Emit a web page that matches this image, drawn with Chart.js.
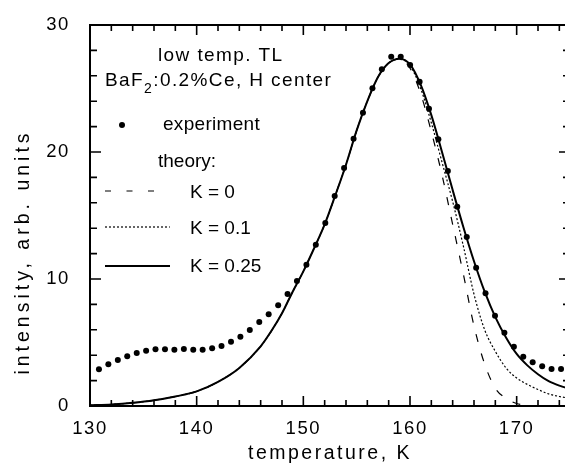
<!DOCTYPE html>
<html>
<head>
<meta charset="utf-8">
<script src="https://cdn.jsdelivr.net/npm/chart.js@4.4.0/dist/chart.umd.min.js"></script>
<style>
  html, body { margin: 0; padding: 0; overflow: hidden; background: #fff; }
</style>
</head>
<body>
<canvas id="myChart" width="580" height="463"></canvas>
<script>
// experiment (dots)
const expTemp = [
  130.84, 131.72, 132.61, 133.49, 134.38, 135.26, 136.14, 137.03, 137.91, 138.80,
  139.68, 140.56, 141.45, 142.33, 143.22, 144.10, 144.98, 145.87, 146.75, 147.64,
  148.52, 149.40, 150.29, 151.17, 152.06, 152.94, 153.82, 154.71, 155.59, 156.48,
  157.36, 158.24, 159.13, 160.01, 160.90, 161.78, 162.66, 163.55, 164.43, 165.32,
  166.20, 167.08, 167.97, 168.85, 169.74, 170.62, 171.50, 172.39, 173.27, 174.16,
];
const expIntensity = [
  2.89, 3.28, 3.62, 3.91, 4.17, 4.35, 4.46, 4.46, 4.43, 4.49,
  4.43, 4.43, 4.54, 4.72, 5.06, 5.46, 5.98, 6.61, 7.22, 7.93,
  8.82, 9.84, 11.13, 12.7, 14.41, 16.54, 18.74, 21.04, 23.09, 25.02,
  26.51, 27.5, 27.5, 26.85, 25.54, 23.41, 21.0, 18.5, 15.69, 13.31,
  10.89, 8.87, 7.11, 5.77, 4.67, 3.88, 3.44, 3.13, 2.91, 2.91,
];

// theory curves
const theoryTemp = [
  130, 132, 134, 136, 138, 140, 142, 144, 146, 147,
  148, 149, 150, 151, 152, 153, 154, 155, 156, 157,
  158, 159, 160, 161, 162, 163, 164, 165, 166, 167,
  168, 169, 170, 171, 172, 173, 174, 175,
];
const theoryK0 = [
  0.05, 0.12, 0.25, 0.45, 0.75, 1.15, 1.9, 3.0, 4.7, 5.9,
  7.3, 9.0, 10.6, 12.4, 14.3, 16.6, 19.0, 21.7, 24.0, 25.9,
  27.0, 27.3, 26.6, 24.6, 21.6, 18.2, 14.3, 10.4, 6.3, 3.3,
  1.4, 0.6, 0.2, 0.05, null, null, null, null,
];
const theoryK01 = [
  0.05, 0.12, 0.25, 0.45, 0.75, 1.15, 1.9, 3.0, 4.7, 5.9,
  7.3, 9.0, 10.6, 12.4, 14.3, 16.6, 19.0, 21.7, 24.0, 25.9,
  27.0, 27.3, 26.8, 25.0, 22.3, 19.2, 16.1, 12.6, 8.8, 6.0,
  4.3, 3.0, 2.2, 1.7, 1.3, 0.95, 0.75, 0.6,
];
const theoryK025 = [
  0.05, 0.12, 0.25, 0.45, 0.75, 1.15, 1.9, 3.0, 4.7, 5.9,
  7.3, 9.0, 10.6, 12.4, 14.3, 16.6, 19.0, 21.7, 24.0, 25.9,
  27.0, 27.35, 26.9, 25.3, 22.9, 20.0, 17.0, 14.1, 11.4, 9.0,
  7.0, 5.4, 4.1, 3.2, 2.5, 1.95, 1.6, 1.35,
];

const xTicks = [130, 140, 150, 160, 170];
const yTicks = [0, 10, 20, 30];

const FONT = "Liberation Sans, Arial, sans-serif";

function pairs(xs, ys) {
  const out = [];
  xs.forEach((x, i) => {
    if (ys[i] !== null) out.push({ x: x, y: ys[i] });
  });
  return out;
}

// text with letter spacing on the canvas
function label(ctx, text, x, y, size, spacing, align) {
  ctx.font = size + "px " + FONT;
  ctx.letterSpacing = spacing + "px";
  ctx.textAlign = align || "left";
  ctx.textBaseline = "alphabetic";
  ctx.fillText(text, x, y);
}

// frame with inward ticks on all four sides
const frameTicks = {
  id: "frameTicks",
  beforeDraw(chart) {
    chart.ctx.letterSpacing = "1.6px";
  },
  afterDatasetsDraw(chart) {
    const { ctx, chartArea: a } = chart;
    const x = chart.scales.x;
    const y = chart.scales.y;
    ctx.save();
    ctx.strokeStyle = "#000";
    ctx.lineWidth = 2;
    ctx.strokeRect(a.left, a.top, a.right - a.left, a.bottom - a.top);
    ctx.lineWidth = 1.6;
    ctx.beginPath();
    for (let v = 130; v <= 175; v += 2) {
      const px = x.getPixelForValue(v);
      const len = v % 10 === 0 ? 10 : 6;
      ctx.moveTo(px, a.bottom);
      ctx.lineTo(px, a.bottom - len);
      ctx.moveTo(px, a.top);
      ctx.lineTo(px, a.top + len);
    }
    for (let v = 0; v <= 30; v += 2) {
      const py = y.getPixelForValue(v);
      const len = v % 10 === 0 ? 11 : 7;
      ctx.moveTo(a.left, py);
      ctx.lineTo(a.left + len, py);
      ctx.moveTo(a.right, py);
      ctx.lineTo(a.right - len, py);
    }
    ctx.stroke();
    ctx.restore();
  },
  afterDraw(chart) {
    const ctx = chart.ctx;
    const a = chart.chartArea;
    ctx.save();
    ctx.fillStyle = "#000";
    ctx.strokeStyle = "#000";

    // header
    label(ctx, "low temp. TL", 158, 61, 19, 1.4);
    label(ctx, "BaF", 105, 86, 19, 1.4);
    let w = ctx.measureText("BaF").width;
    label(ctx, "2", 105 + w, 93, 14, 1.4);
    let w2 = ctx.measureText("2").width;
    label(ctx, ":0.2%Ce, H center", 105 + w + w2, 86, 19, 1.4);

    // legend
    ctx.beginPath();
    ctx.arc(122, 125, 3, 0, Math.PI * 2);
    ctx.fill();
    label(ctx, "experiment", 163, 130, 19, 0.3);
    label(ctx, "theory:", 158, 167, 19, 0);

    ctx.lineWidth = 1.2;
    ctx.setLineDash([6, 15.5]);
    ctx.beginPath();
    ctx.moveTo(105, 191);
    ctx.lineTo(156, 191);
    ctx.stroke();
    label(ctx, "K = 0", 190, 198, 19, 0);

    ctx.setLineDash([2, 2]);
    ctx.beginPath();
    ctx.moveTo(105, 227);
    ctx.lineTo(170, 227);
    ctx.stroke();
    label(ctx, "K = 0.1", 190, 234, 19, 0);

    ctx.setLineDash([]);
    ctx.lineWidth = 2;
    ctx.beginPath();
    ctx.moveTo(105, 266);
    ctx.lineTo(170, 266);
    ctx.stroke();
    label(ctx, "K = 0.25", 190, 272, 19, 0);

    // axis titles
    label(ctx, "temperature, K", (a.left + a.right) / 2, 459, 19.5, 2.5, "center");
    ctx.translate(29, 252);
    ctx.rotate(-Math.PI / 2);
    label(ctx, "intensity, arb. units", 0, 0, 19.5, 4, "center");
    ctx.restore();
  },
};

const ctx = document.getElementById("myChart").getContext("2d");

const data = {
  datasets: [
    {
      label: "experiment",
      data: pairs(expTemp, expIntensity),
      showLine: false,
      pointRadius: 3,
      pointBackgroundColor: "#000",
      pointBorderWidth: 0,
    },
    {
      label: "K = 0",
      data: pairs(theoryTemp, theoryK0),
      showLine: true,
      borderColor: "#000",
      borderWidth: 1.2,
      borderDash: [8, 12],
      pointRadius: 0,
      cubicInterpolationMode: "monotone",
    },
    {
      label: "K = 0.1",
      data: pairs(theoryTemp, theoryK01),
      showLine: true,
      borderColor: "#000",
      borderWidth: 1.2,
      borderDash: [2, 2],
      pointRadius: 0,
      cubicInterpolationMode: "monotone",
    },
    {
      label: "K = 0.25",
      data: pairs(theoryTemp, theoryK025),
      showLine: true,
      borderColor: "#000",
      borderWidth: 2,
      pointRadius: 0,
      cubicInterpolationMode: "monotone",
    },
  ],
};

const config = {
  type: "scatter",
  data: data,
  plugins: [frameTicks],
  options: {
    responsive: false,
    devicePixelRatio: 1,
    animation: false,
    layout: { padding: { top: 25, right: 10, left: 0, bottom: 0 } },
    plugins: {
      legend: { display: false },
      tooltip: { enabled: false },
    },
    scales: {
      x: {
        type: "linear",
        min: 130,
        max: 175,
        grid: { display: false },
        border: { display: false },
        afterBuildTicks: (scale) => {
          scale.ticks = xTicks.map((v) => ({ value: v }));
        },
        afterFit: (scale) => {
          scale.height = 57;
        },
        ticks: {
          color: "#000",
          padding: 4,
          maxRotation: 0,
          font: { family: FONT, size: 18.5 },
        },
      },
      y: {
        min: 0,
        max: 30,
        grid: { display: false },
        border: { display: false },
        afterBuildTicks: (scale) => {
          scale.ticks = yTicks.map((v) => ({ value: v }));
        },
        afterFit: (scale) => {
          scale.width = 90;
        },
        ticks: {
          color: "#000",
          padding: 12,
          font: { family: FONT, size: 18.5 },
        },
      },
    },
  },
};

const myChart = new Chart(ctx, config);
</script>
</body>
</html>
